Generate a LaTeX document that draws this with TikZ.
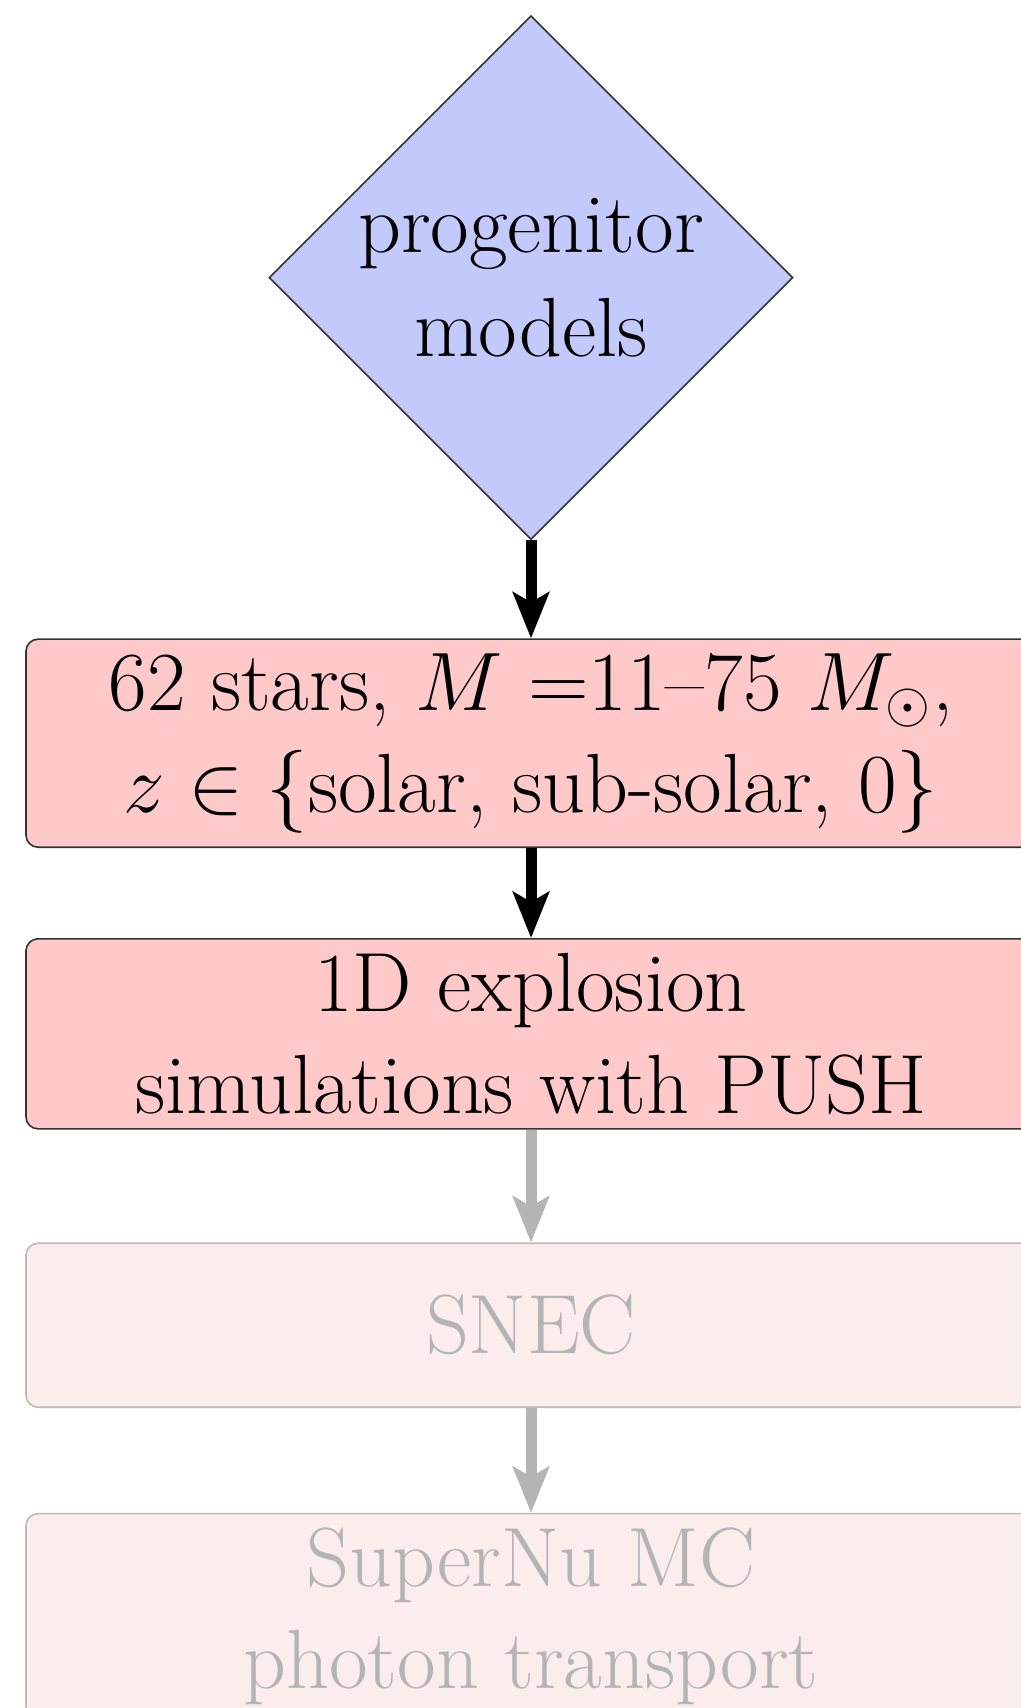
\documentclass[tikz,border=0pt]{standalone}
\usepackage{amsmath}
\usepackage{tikz}
\usetikzlibrary{shapes.geometric, arrows.meta, positioning}
\definecolor{progenitorblue}{RGB}{196,201,252}
\definecolor{stageboxfill}{RGB}{255,200,201}
\definecolor{fadedboxfill}{RGB}{252,237,237}
\definecolor{fadedgray}{RGB}{180,180,180}
\tikzset{
    progenitorbox/.style={diamond, aspect=1, minimum size=131pt, inner sep=0pt, draw=black!80, fill=progenitorblue, font=\fontsize{21}{26}\selectfont, align=center},
    stagebox/.style={rectangle, rounded corners=3pt, minimum width=252.5pt, minimum height=41pt, inner xsep=4pt, inner ysep=3.6pt, draw=black!80, fill=stageboxfill, font=\fontsize{21}{25.4}\selectfont, align=center},
    fadedbox/.style={stagebox, draw=fadedgray!90, fill=fadedboxfill, text=fadedgray},
}

\begin{document}
\begin{tikzpicture}[
    node distance=25pt,
    arrow/.style={-{Stealth[length=11.5pt, width=9pt, inset=2.5pt]}, line width=2.75pt, black},
    fadedarrow/.style={arrow, fadedgray}
]
\useasboundingbox (0,0) rectangle (255pt,-427pt);

% Progenitor input
\node[progenitorbox] (progenitor) at (132.75pt,-69.4pt) {progenitor\\models};

% Pipeline stages
\node[stagebox, below=24.5pt of progenitor] (stars) {62 stars, $M$ =11--75 $M_{\odot}$,\\$z \in \{\text{solar, sub-solar, 0}\}$};
\node[stagebox, below=22.5pt of stars] (push) {1D explosion\\simulations with PUSH};

% Faded stages
\node[fadedbox, below=28.2pt of push] (snec) {SNEC};
\node[fadedbox, below=26.2pt of snec] (supernu) {SuperNu MC\\photon transport};

% Arrows
\draw[arrow] (progenitor.south) -- (stars.north);
\draw[arrow] (stars.south) -- (push.north);
\draw[fadedarrow] (push.south) -- (snec.north);
\draw[fadedarrow] (snec.south) -- (supernu.north);

\end{tikzpicture}
\end{document}
